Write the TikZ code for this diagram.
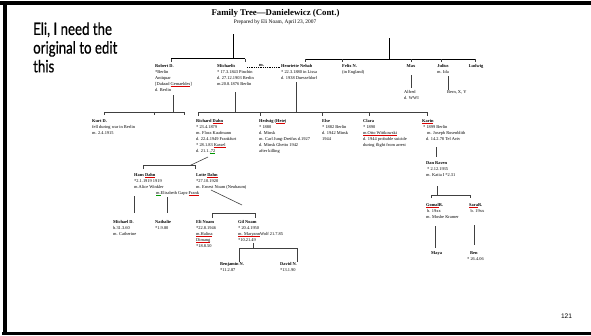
\documentclass[tikz,border=0pt]{standalone}
\usepackage{fontspec}
\setmainfont{Liberation Serif}
\newfontfamily\handfont[FakeBold=0.6]{Lato}
\newfontfamily\numfont{Liberation Sans}
\usepackage{graphicx}
\newcommand\sq[1]{\leavevmode\setbox0\hbox{#1}\rlap{\textcolor{red!85!black}{\rule[-0.9pt]{\wd0}{0.25pt}}}\box0}
\newcommand\gq[1]{\leavevmode\setbox0\hbox{#1}\rlap{\textcolor{green!60!black}{\rule[-0.9pt]{\wd0}{0.25pt}}}\box0}
\newcommand\hw[1]{\scalebox{0.78}[1]{#1}}
\tikzset{
  person/.style={anchor=north west, inner sep=0pt, align=left, font=\fontsize{4.4}{6}\selectfont},
  treeline/.style={draw=black!75, line width=0.6pt},
  topbar/.style={draw=black, line width=0.9pt},
  marrline/.style={draw=black, line width=0.8pt, densely dotted},
}
\begin{document}
\begin{tikzpicture}[x=1pt,y=-1pt]
\useasboundingbox (0,0) rectangle (591,335);
% frame
\fill (0,1) rectangle (591,5);
\fill (3,1) rectangle (6.5,332);
\fill (2,332) rectangle (591,335);

% titles
\node[font=\bfseries\fontsize{8.8}{10}\selectfont, inner sep=0pt] (title) at (275.5,13.3) {Family Tree—Danielewicz (Cont.)};
\node[font=\fontsize{5.4}{6}\selectfont, inner sep=0pt] (subtitle) at (275,22.7) {Prepared by Eli Noam, April 23, 2007};

% note
\node[anchor=north west, inner sep=0pt, align=left, font=\handfont\fontsize{17}{18.7}\selectfont] (note) at (33,22.2)
  {\hw{Eli, I need the}\\\hw{original to edit}\\\hw{this}};

% page number
\node[font=\numfont\fontsize{6.6}{7}\selectfont, inner sep=0pt] (pnum) at (566.5,316.5) {121};

% generation 1
\node[person] (robert) at (155,64.2) {\textbf{Robert D.}\\{*}Berlin\\Antiquar\\{}[Dakrad \sq{Gemaeldes}]\\d. Berlin};
\node[person] (michaelis) at (217,64.2) {\textbf{Michaelis}\\{*} 17.3.1843 Pinchin\\d. 27.12.1903 Berlin\\m.20.8.1876 Berlin};
\node[person, anchor=south west] (marr) at (259,66.5) {\textbf{m.}};
\node[person] (henriette) at (281,64.2) {\textbf{Henriette Nehab}\\{*} 22.3.1880 in Lissa\\d. 1938 Duesseldorf};
\node[person] (felix) at (342,64.2) {\textbf{Felix N.}\\(in England)};
\node[person, anchor=north] (max) at (411,64.2) {\textbf{Max}};
\node[person, anchor=north, align=center] (julius) at (443,64.2) {\textbf{Julius}\\m. Ida};
\node[person, anchor=north] (ludwig) at (476,64.2) {\textbf{Ludwig}};
\node[person] (alfred) at (404,90.2) {Alfred\\d. WWI};
\node[person] (bern) at (447,90.2) {Bern, X, Y};

% generation 2
\node[person] (kurt) at (92,119.2) {\textbf{Kurt D.}\\fell during war in Berlin\\m. 2.4.1915};
\node[person] (richard) at (196,119.2) {\textbf{Richard \sq{Dahn}}\\{*} 23.4.1879\\m. Flora Kaufmann\\d. 22.4.1949 Frankfurt\\{*} 28.1.83 \sq{Kassel}\\d. 21.1.\gq{,72}};
\node[person] (hedwig) at (259,119.2) {\textbf{Hedwig (\sq{Hete})}\\{*} 1880\\d. Minsk\\m. Carl Jung-Dreifus d.1927\\d. Minsk Ghetto 1942\\after killing};
\node[person] (else) at (322,119.2) {\textbf{Else}\\{*} 1882 Berlin\\d. 1942 Minsk\\1944};
\node[person] (clara) at (363,119.2) {\textbf{Clara}\\{*} 1890\\\sq{m.Otto Wittkowski}\\d. 1944 probable suicide\\during flight from arrest};
\node[person] (karin) at (422,119.2) {\textbf{\sq{Karin}}\\\hspace*{1pt}{*} 1899 Berlin\\\hspace*{5pt}m. Joseph Rosenblith\\\hspace*{4pt}d. 14.2.78 Tel Aviv};
\node[person] (dan) at (426,161) {\textbf{Dan Raven}\\\hspace*{1pt}{*} 2.12.1935\\m. Katia I {*}2.31};

% generation 3
\node[person] (hans) at (134,173.2) {\textbf{Hans \sq{Dahn}}\\{*}2.1.1919 1919\\m.Alice Winkler};
\node[person] (hanswife) at (156,191.2) {\gq{m.} Elisabeth Gaps-\sq{Frank}};
\node[person] (lotte) at (196,173.2) {\textbf{Lotte \sq{Dahn}}\\{*}27.10.1920\\m. Ernest Noam (Neubaum)};
\node[person] (gomal) at (426,203.2) {\textbf{\sq{Gomal} R.}\\\hspace*{1pt}b. 19xx\\m. Moshe Kramer};
\node[person] (sara) at (469,203.2) {\textbf{\sq{Sara} R.}\\\hspace*{1.5pt}b. 19xx};

% generation 4
\node[person] (michael) at (113,220.2) {\textbf{Michael D.}\\b.31.3.60\\m. Catherine};
\node[person] (nathalie) at (155,220.2) {\textbf{Nathalie}\\{*}1.9.80};
\node[person] (eli) at (196,220.2) {\textbf{Eli Noam}\\{*}22.8.1946\\\sq{m.Halina}\\\sq{Dimang}\\{*}18.8.50};
\node[person] (gil) at (238,220.2) {\textbf{Gil Noam}\\{*} 20.4.1950\\\sq{m. Maryann} Wolf 21.7.85\\{*}10.21.49};
\node[person] (maya) at (431,251.2) {\textbf{Maya}};
\node[person] (ben) at (467,251.2) {\hspace*{3pt}\textbf{Ben}\\{*} 26.4.06};

% generation 5
\node[person] (benjamin) at (220,262.2) {\textbf{Benjamin N.}\\{*}11.2.87};
\node[person] (david) at (280,262.2) {\textbf{David N.}\\{*}13.1.90};

% ---- connectors ----
% top left family
\coordinate (tlTop) at (233,34);
\coordinate (tlJoin) at (233,58.5);
\coordinate (tlL) at (171,58.5);
\coordinate (tlR) at (245,58.5);
\draw[topbar] (tlTop) -- (tlJoin);
\draw[topbar] (tlL) -- (tlR);
\draw[treeline] (tlL) -- ++(0,3);
\draw[treeline] (tlR) -- ++(0,3);

% top right family
\coordinate (trTop) at (389,38);
\coordinate (trJoin) at (389,59);
\coordinate (trL) at (305,59);
\coordinate (trR) at (475,59);
\draw[topbar] (trTop) -- (trJoin);
\draw[topbar] (trL) -- (trR);
\foreach \x in {305,342,411,441,475} \draw[treeline] (\x,59) -- (\x,62);

% marriage
\coordinate (mA) at (247,67.5);
\coordinate (mB) at (280,67.5);
\draw[marrline] (mA) -- (mB);

% Max -> Alfred, Julius -> Bern
\coordinate (maxD) at (411,75);
\coordinate (alfU) at (411,88);
\coordinate (julD) at (448,76);
\coordinate (bernU) at (448,90);
\draw[treeline] (maxD) -- (alfU);
\draw[treeline] (julD) -- (bernU);

% Robert -> Kurt
\coordinate (rDown) at (173,95);
\coordinate (rBar) at (173,112);
\draw[treeline] (rDown) -- (rBar);
\draw[treeline] (104,112) -- (184,112);
\foreach \x in {104,154,184} \draw[treeline] (\x,112) -- (\x,115);

% Michaelis + Henriette -> children
\draw[treeline] (235.5,92) -- (235.5,112);
\draw[treeline] (296,82) -- (296,112);
\draw[treeline] (198,112) -- (427,112);
\foreach \x in {198,260,322,369,427} \draw[treeline] (\x,112) -- (\x,115.5);

% Karin -> Dan
\draw[treeline] (436,147) -- (436,157);
% Dan -> Gomal, Sara
\draw[treeline] (437,186) -- (437,195);
\draw[treeline] (431,198) -- (431,195) -- (470,195) -- (470,198);
% Gomal -> Maya, Sara -> Ben
\draw[treeline] (435,226) -- (435,248);
\draw[treeline] (474,225) -- (474,245);

% Richard -> Hans, Lotte
\draw[treeline] (208,157) -- (190,165.5);
\draw[treeline] (143,169) -- (143,165.5) -- (195,165.5) -- (195,169);
% Hans -> Michael, Nathalie
\draw[treeline] (134,196) -- (134,213);
\draw[treeline] (167,197) -- (167,213);
% Lotte -> Eli, Gil
\draw[treeline] (211,190) -- (242,205);
\draw[treeline] (212,218) -- (212,213) -- (255,213) -- (255,218);
% Gil -> Benjamin, David
\draw[treeline] (253,243) -- (253,248);
\draw[treeline] (239,262) -- (239,248) -- (297,248) -- (297,262);
\end{tikzpicture}
\end{document}
